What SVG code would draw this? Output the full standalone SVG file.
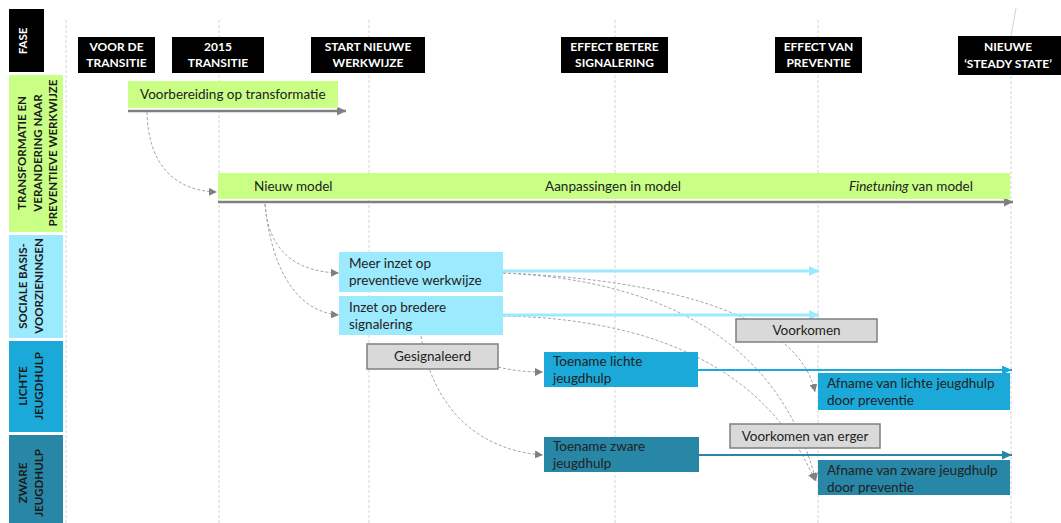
<svg xmlns="http://www.w3.org/2000/svg" width="1061" height="523" viewBox="0 0 1061 523">
<style>
text{font-family:Lato,"Liberation Sans",sans-serif;}
.grid{stroke:#d4d4d4;stroke-width:1;stroke-dasharray:3,2;fill:none}
.hdr{fill:#000}
.hdrt{fill:#fff;font-weight:700;font-size:12px;text-anchor:middle}
.lane{font-weight:700;font-size:11.5px;text-anchor:middle;fill:#1a1a1a}
.t{font-size:13.5px;fill:#222}
.green{fill:#c9ff85}
.lblue{fill:#9ceafe}
.lichte{fill:#1ba9d9}
.zware{fill:#2886a6}
.grey{fill:#d9d9d9;stroke:#7f7f7f;stroke-width:1.5}
.dash{fill:none;stroke:#a6a6a6;stroke-width:1;stroke-dasharray:3,2;marker-end:url(#ad)}
.gline{fill:none;stroke:#808080;stroke-width:2.5;marker-end:url(#ag)}
.bline{fill:none;stroke:#9ceafe;stroke-width:3;marker-end:url(#ab)}
.lline{fill:none;stroke:#1ba9d9;stroke-width:2;marker-end:url(#al)}
.zline{fill:none;stroke:#2886a6;stroke-width:2;marker-end:url(#az)}
</style>
<defs>
<marker id="ad" markerUnits="userSpaceOnUse" markerWidth="9" markerHeight="8" refX="8" refY="4" orient="auto"><path d="M0,0 L8,4 L0,8 z" fill="#808080"/></marker>
<marker id="ag" markerUnits="userSpaceOnUse" markerWidth="10" markerHeight="9" refX="9" refY="4.5" orient="auto"><path d="M0,0 L9,4.5 L0,9 z" fill="#808080"/></marker>
<marker id="ab" markerUnits="userSpaceOnUse" markerWidth="11" markerHeight="10" refX="10" refY="5" orient="auto"><path d="M0,0 L10,5 L0,10 z" fill="#9ceafe"/></marker>
<marker id="al" markerUnits="userSpaceOnUse" markerWidth="11" markerHeight="9" refX="10" refY="4.5" orient="auto"><path d="M0,0 L10,4.5 L0,9 z" fill="#1ba9d9"/></marker>
<marker id="az" markerUnits="userSpaceOnUse" markerWidth="11" markerHeight="9" refX="10" refY="4.5" orient="auto"><path d="M0,0 L10,4.5 L0,9 z" fill="#2886a6"/></marker>
</defs>
<rect width="1061" height="523" fill="#fff"/>
<g id="gridlines">
<line class="grid" x1="66" y1="20" x2="66" y2="523"/>
<line class="grid" x1="219" y1="20" x2="219" y2="523"/>
<line class="grid" x1="369" y1="20" x2="369" y2="523"/>
<line class="grid" x1="615" y1="20" x2="615" y2="523"/>
<line class="grid" x1="818" y1="20" x2="818" y2="523"/>
<line class="grid" x1="1011" y1="36" x2="1011" y2="523"/>
<line x1="1016" y1="8" x2="1011" y2="36" stroke="#d4d4d4" stroke-width="1"/>
</g>
<g id="lanes">
<g id="lane-fase"><rect class="hdr" x="9" y="9" width="35" height="63"/><text class="lane" style="fill:#fff" transform="translate(27,41) rotate(-90)">FASE</text></g>
<g id="lane-transformatie"><rect class="green" x="9" y="75" width="54" height="157"/><text class="lane" transform="translate(26,153) rotate(-90)"><tspan x="0" y="0">TRANSFORMATIE EN</tspan><tspan x="0" y="15.5">VERANDERING NAAR</tspan><tspan x="0" y="31">PREVENTIEVE WERKWIJZE</tspan></text></g>
<g id="lane-sociale"><rect class="lblue" x="9" y="235" width="54" height="103"/><text class="lane" transform="translate(27,286) rotate(-90)"><tspan x="0" y="0">SOCIALE BASIS-</tspan><tspan x="0" y="15.5">VOORZIENINGEN</tspan></text></g>
<g id="lane-lichte"><rect class="lichte" x="9" y="341" width="54" height="91"/><text class="lane" transform="translate(27,386) rotate(-90)"><tspan x="0" y="0">LICHTE</tspan><tspan x="0" y="16">JEUGDHULP</tspan></text></g>
<g id="lane-zware"><rect class="zware" x="9" y="435" width="54" height="88"/><text class="lane" transform="translate(27,483) rotate(-90)"><tspan x="0" y="0">ZWARE</tspan><tspan x="0" y="16">JEUGDHULP</tspan></text></g>
</g>
<g id="phases">
<g id="ph1"><rect class="hdr" x="78" y="37" width="77" height="36"/><text class="hdrt" x="116.5" y="51">VOOR DE</text><text class="hdrt" x="116.5" y="67">TRANSITIE</text></g>
<g id="ph2"><rect class="hdr" x="172" y="37" width="92" height="36"/><text class="hdrt" x="218" y="51">2015</text><text class="hdrt" x="218" y="67">TRANSITIE</text></g>
<g id="ph3"><rect class="hdr" x="311" y="37" width="114" height="36"/><text class="hdrt" x="368" y="51">START NIEUWE</text><text class="hdrt" x="368" y="67">WERKWIJZE</text></g>
<g id="ph4"><rect class="hdr" x="561" y="37" width="107" height="36"/><text class="hdrt" x="614.5" y="51">EFFECT BETERE</text><text class="hdrt" x="614.5" y="67">SIGNALERING</text></g>
<g id="ph5"><rect class="hdr" x="775" y="37" width="87" height="36"/><text class="hdrt" x="818.5" y="51">EFFECT VAN</text><text class="hdrt" x="818.5" y="67">PREVENTIE</text></g>
<g id="ph6"><rect class="hdr" x="958" y="36" width="103" height="39"/><text class="hdrt" x="1008" y="51">NIEUWE</text><text class="hdrt" x="1008" y="68">‘STEADY STATE’</text></g>
</g>
<g id="connectors">
<line class="gline" x1="128" y1="111" x2="346" y2="111"/>
<line class="gline" x1="218" y1="202" x2="1013" y2="202"/>
<path class="dash" d="M147,112 C148,165 175,191 217,192"/>
<path class="dash" d="M265,204 C268,250 295,272 339,273"/>
<path class="dash" d="M265,204 C272,275 300,312 339,315"/>
<path class="dash" d="M421,336 C432,405 475,450 543,455"/>
<path class="dash" d="M498,367 C515,371 528,372 543,372"/>
<path class="dash" d="M503,273 C680,280 800,320 815,392"/>
<path class="dash" d="M503,273 C660,280 780,340 816,481"/>
<path class="dash" d="M503,316 C620,318 760,350 815,481"/>
<line class="bline" x1="503" y1="271" x2="819" y2="271"/>
<line class="bline" x1="503" y1="315" x2="819" y2="315"/>
<line class="lline" x1="698" y1="370" x2="1012" y2="370"/>
<line class="zline" x1="699" y1="455" x2="1012" y2="455"/>
</g>
<g id="n-voorbereiding"><rect class="green" x="128" y="81" width="210" height="27"/><text class="t" x="140" y="99">Voorbereiding op transformatie</text></g>
<g id="n-model"><rect class="green" x="218" y="173" width="792" height="26"/><text class="t" x="254" y="191">Nieuw model</text><text class="t" x="545" y="191">Aanpassingen in model</text><text class="t" x="849" y="191"><tspan font-style="italic">Finetuning</tspan> van model</text></g>
<g id="n-meer"><rect class="lblue" x="339" y="252" width="164" height="40"/><text class="t" x="349" y="268">Meer inzet op</text><text class="t" x="349" y="285">preventieve werkwijze</text></g>
<g id="n-inzet"><rect class="lblue" x="339" y="296" width="164" height="39"/><text class="t" x="349" y="312">Inzet op bredere</text><text class="t" x="349" y="329">signalering</text></g>
<g id="n-gesignaleerd"><rect class="grey" x="367" y="344" width="131" height="25"/><text class="t" x="432.5" y="361" text-anchor="middle">Gesignaleerd</text></g>
<g id="n-voorkomen"><rect class="grey" x="736" y="319" width="141" height="23"/><text class="t" x="806.5" y="335" text-anchor="middle">Voorkomen</text></g>
<g id="n-voorkomen-erger"><rect class="grey" x="730" y="424" width="150" height="24"/><text class="t" x="805" y="441" text-anchor="middle">Voorkomen van erger</text></g>
<g id="n-toename-lichte"><rect class="lichte" x="544" y="352" width="154" height="35"/><text class="t" x="553" y="366">Toename lichte</text><text class="t" x="553" y="383">jeugdhulp</text></g>
<g id="n-toename-zware"><rect class="zware" x="544" y="437" width="155" height="35"/><text class="t" x="553" y="451">Toename zware</text><text class="t" x="553" y="468">jeugdhulp</text></g>
<g id="n-afname-lichte"><rect class="lichte" x="818" y="373" width="192" height="37"/><text class="t" x="827" y="388">Afname van lichte jeugdhulp</text><text class="t" x="827" y="405">door preventie</text></g>
<g id="n-afname-zware"><rect class="zware" x="818" y="460" width="192" height="35"/><text class="t" x="827" y="475">Afname van zware jeugdhulp</text><text class="t" x="827" y="492">door preventie</text></g>
</svg>
